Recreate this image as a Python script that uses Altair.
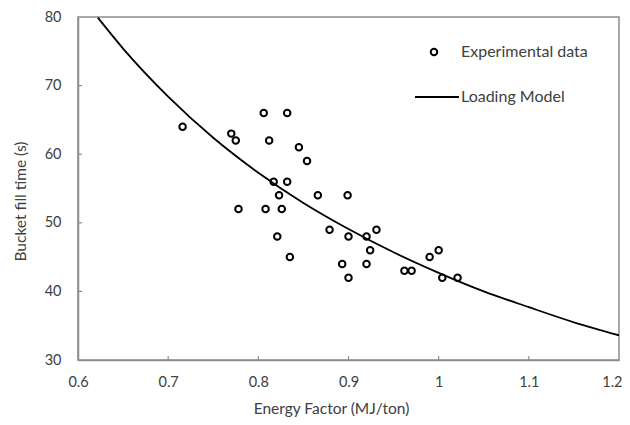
import altair as alt
import pandas as pd

exp_x = [0.716, 0.806, 0.832, 0.770, 0.775, 0.812, 0.845, 0.854, 0.817, 0.832,
         0.823, 0.866, 0.899, 0.778, 0.808, 0.826, 0.879, 0.900, 0.920, 0.931,
         0.924, 0.821, 0.835, 0.893, 0.920, 0.900, 0.962, 0.970, 0.990, 1.000,
         1.004, 1.021]
exp_y = [64, 66, 66, 63, 62, 62, 61, 59, 56, 56,
         54, 54, 54, 52, 52, 52, 49, 48, 48, 49,
         46, 48, 45, 44, 44, 42, 43, 43, 45, 46,
         42, 42]

# Loading model curve
model_x = [0.622, 0.65, 0.70, 0.75, 0.80, 0.85, 0.90, 0.95, 1.00, 1.05, 1.10, 1.15, 1.20]
model_y = [79.9, 75.4, 68.4, 62.4, 57.3, 52.9, 49.1, 45.7, 42.7, 40.0, 37.7, 35.5, 33.6]

x_ticks = [0.6, 0.7, 0.8, 0.9, 1.0, 1.1, 1.2]
y_ticks = [30, 40, 50, 60, 70, 80]

W, H = 541, 343
FONT = "Lato"
GRAY = "#8c8c8c"
TXT = "#404040"

exp_df = pd.DataFrame({"x": exp_x, "y": exp_y})
model_df = pd.DataFrame({"x": model_x, "y": model_y})

xs = alt.Scale(domain=[0.6, 1.2], nice=False, zero=False)
ys = alt.Scale(domain=[30, 80], nice=False, zero=False)

xaxis = alt.Axis(values=x_ticks, title="Energy Factor (MJ/ton)", ticks=False,
                 grid=False, domainColor=GRAY, domainWidth=1.5, labelFlush=False,
                 labelAlign={"condition": {"test": "datum.value >= 1.19", "value": "right"},
                             "value": "center"},
                 labelOffset={"condition": {"test": "datum.value >= 1.19", "value": 3},
                              "value": 0},
                 labelFont=FONT, labelFontSize=14.5, labelColor=TXT, labelPadding=15,
                 labelExpr="datum.value == 1 ? '1' : format(datum.value, '.1f')",
                 titleFont=FONT, titleFontSize=15.5, titleFontWeight="normal",
                 titleColor=TXT, titlePadding=13, titleX=253, titleAnchor="middle")
yaxis = alt.Axis(values=y_ticks, title="Bucket fill time (s)", ticks=False,
                 grid=False, domainColor=GRAY, domainWidth=1.5, labelFlush=False,
                 labelFont=FONT, labelFontSize=14.5, labelColor=TXT, labelPadding=17,
                 titleFont=FONT, titleFontSize=15.5, titleFontWeight="normal",
                 titleColor=TXT, titlePadding=16, titleY=184, titleAnchor="middle")

base_pts = alt.Chart(exp_df).mark_point(
    shape="circle", filled=False, color="black", strokeWidth=2, size=42, opacity=1
).encode(x=alt.X("x:Q", scale=xs, axis=xaxis), y=alt.Y("y:Q", scale=ys, axis=yaxis))

curve = alt.Chart(model_df).mark_line(
    color="black", strokeWidth=1.8, interpolate="monotone", clip=True
).encode(x=alt.X("x:Q", scale=xs), y=alt.Y("y:Q", scale=ys))

# inside tick marks
xt_df = pd.DataFrame({"x": x_ticks[1:-1]})
xticks = alt.Chart(xt_df).mark_rule(color=GRAY, strokeWidth=1.2).encode(
    x=alt.X("x:Q", scale=xs), y=alt.value(H), y2=alt.value(H - 4))
yt_df = pd.DataFrame({"y": y_ticks[1:-1]})
yticks = alt.Chart(yt_df).mark_rule(color=GRAY, strokeWidth=1.2).encode(
    y=alt.Y("y:Q", scale=ys), x=alt.value(0), x2=alt.value(4))

# legend
leg_pt = alt.Chart(pd.DataFrame({"a": [0]})).mark_point(
    shape="circle", filled=False, color="black", strokeWidth=2, size=42, opacity=1
).encode(x=alt.value(356), y=alt.value(35))
leg_line = alt.Chart(pd.DataFrame({"a": [0]})).mark_rule(color="black", strokeWidth=1.8).encode(
    x=alt.value(337), x2=alt.value(381), y=alt.value(80))
leg_t1 = alt.Chart(pd.DataFrame({"a": [0]})).mark_text(
    align="left", baseline="middle", font=FONT, fontSize=16, color=TXT
).encode(x=alt.value(383), y=alt.value(35), text=alt.value("Experimental data"))
leg_t2 = alt.Chart(pd.DataFrame({"a": [0]})).mark_text(
    align="left", baseline="middle", font=FONT, fontSize=16, color=TXT
).encode(x=alt.value(383), y=alt.value(80), text=alt.value("Loading Model"))

chart = alt.layer(curve, base_pts, xticks, yticks, leg_pt, leg_line, leg_t1, leg_t2).properties(
    width=W, height=H,
    autosize=alt.AutoSizeParams(type="none"),
    padding={"left": 70, "top": 9, "right": 3, "bottom": 57},
    background="white",
).configure_view(stroke=GRAY, strokeWidth=1.5)

chart.save("out.html", embed_options={"renderer": "svg", "actions": False})
